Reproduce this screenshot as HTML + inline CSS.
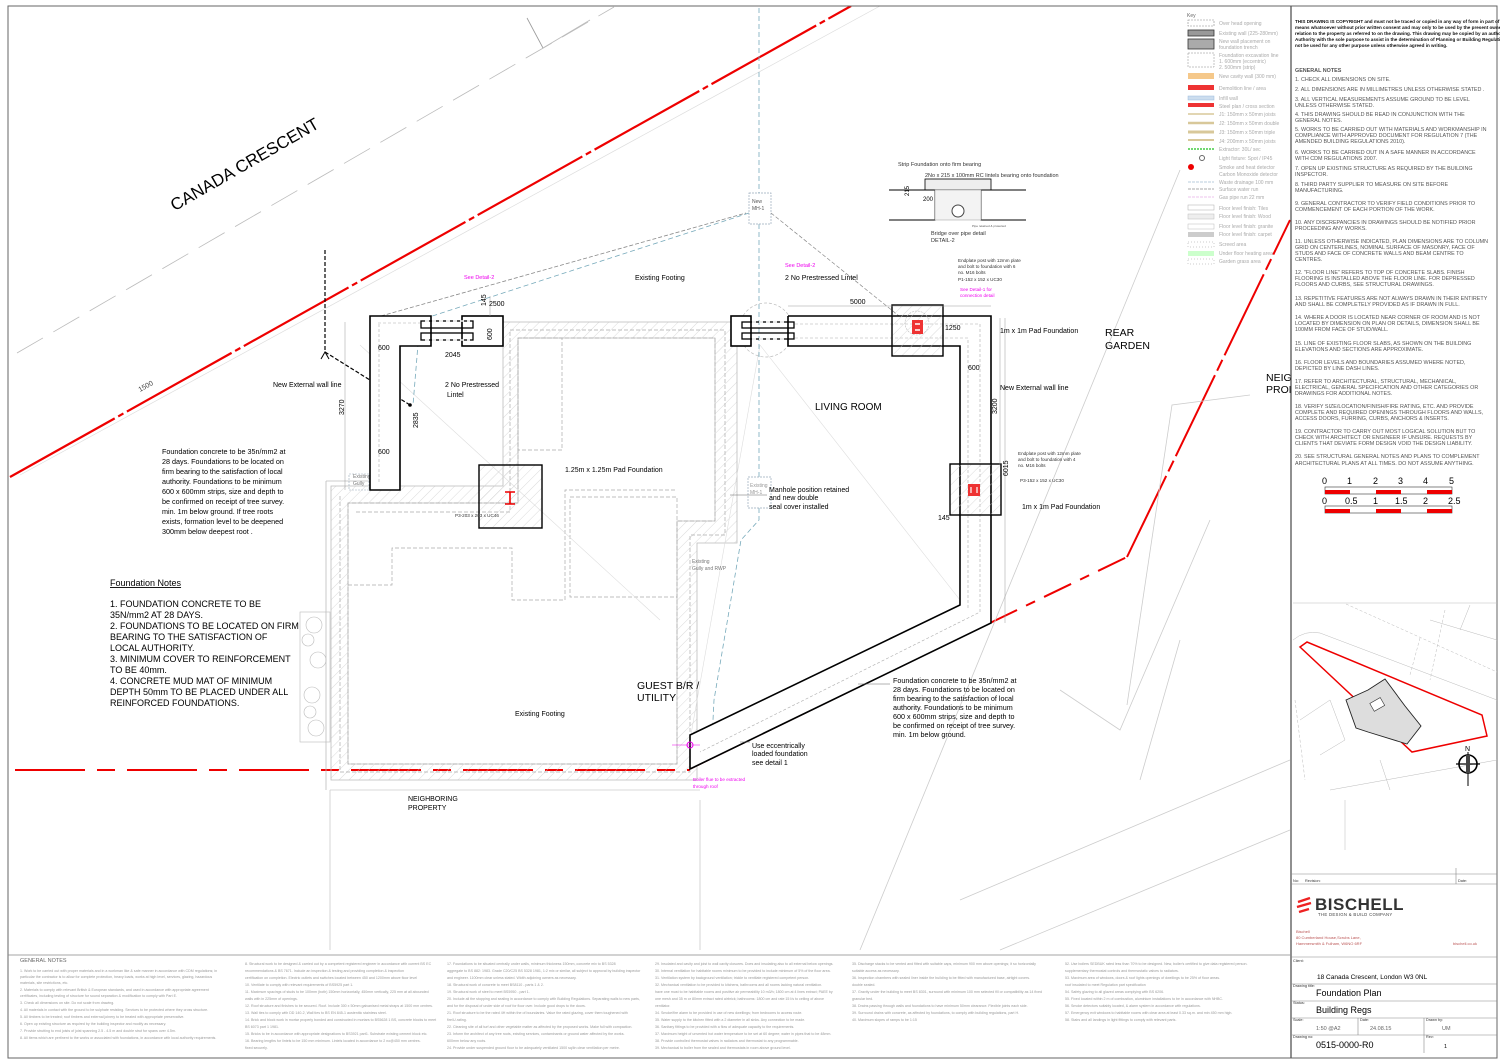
<!DOCTYPE html>
<html><head><meta charset="utf-8"><style>
html,body{margin:0;padding:0;background:#fff}
svg{display:block}
text{font-family:"Liberation Sans",sans-serif}
</style></head><body>
<svg width="1500" height="1061" viewBox="0 0 1500 1061" xmlns="http://www.w3.org/2000/svg">
<defs>
<pattern id="h" width="7" height="7" patternUnits="userSpaceOnUse" patternTransform="rotate(45)"><line x1="0" y1="0" x2="0" y2="7" stroke="#ccc" stroke-width="0.7"/></pattern>
<clipPath id="dr"><rect x="8" y="6" width="1283" height="948"/></clipPath>
</defs>
<rect width="1500" height="1061" fill="#fff"/>
<g clip-path="url(#dr)">
<!-- road grey lines -->
<line x1="17" y1="353" x2="614" y2="7" stroke="#bbb" stroke-width="0.8" stroke-dasharray="30,12"/>
<line x1="20" y1="475" x2="880" y2="6" stroke="#ddd" stroke-width="0.7"/>
<line x1="527" y1="18" x2="543" y2="48" stroke="#999" stroke-width="0.8"/>
<line x1="543" y1="48" x2="590" y2="20" stroke="#bbb" stroke-width="0.8"/>
<!-- red top boundary -->
<line x1="10" y1="477" x2="851" y2="6" stroke="#e00" stroke-width="2.2" stroke-dasharray="120,4,6,4"/>
<text x="140" y="392" font-size="7" fill="#444" transform="rotate(-29 140 392)">1500</text>
<text x="245" y="170" font-size="17" text-anchor="middle" transform="rotate(-30 245 165)">CANADA CRESCENT</text>
<!-- red right/bottom boundary -->
<polyline points="990,623 1127,557" fill="none" stroke="#e00" stroke-width="2" stroke-dasharray="30,10,10,10"/>
<polyline points="1127,557 1290,220" fill="none" stroke="#e00" stroke-width="2" stroke-dasharray="90,5,12,5"/>
<line x1="15" y1="770" x2="690" y2="770" stroke="#e00" stroke-width="2" stroke-dasharray="70,12,18,12"/>
<line x1="690" y1="769" x2="990" y2="623" stroke="#600" stroke-width="1.6"/>
<!-- neighbouring grey lines -->
<g stroke="#ccc" stroke-width="0.8" fill="none">
<polyline points="1127,705 1172,405 1250,395"/>
<polyline points="1060,690 1120,730 1210,520"/>
<line x1="1180" y1="640" x2="1140" y2="780"/>
<line x1="960" y1="900" x2="1290" y2="760"/>
<line x1="1000" y1="950" x2="1290" y2="830"/>
<line x1="860" y1="950" x2="1180" y2="170"/>
<line x1="330" y1="790" x2="330" y2="950"/>
<line x1="700" y1="800" x2="700" y2="950"/>
<line x1="330" y1="790" x2="700" y2="790"/>
</g>
<!-- existing building hatched band -->
<path d="M331,486 L503,486 L503,322 L737,322 L737,543 L697,543 L697,780 L331,780 Z M348,503 L348,764 L677,764 L677,521 L715,521 L715,338 L518,338 L518,503 Z" fill="url(#h)" fill-rule="evenodd" stroke="#bbb" stroke-width="0.8"/>
<g fill="none" stroke="#aaa" stroke-width="0.7" stroke-dasharray="4,2">
<polygon points="348,503 348,764 677,764 677,521 715,521 715,338 518,338 518,503"/>
<polyline points="356,512 510,512 510,330 725,330 725,535 690,535 690,772 340,772 340,496"/>
<rect x="518" y="338" width="44" height="112"/>
<polyline points="348,585 392,585 392,548 512,548 512,600 565,600 565,490 677,490"/>
<rect x="570" y="497" width="107" height="100"/>
</g>
<line x1="326" y1="481" x2="326" y2="790" stroke="#bbb" stroke-width="0.8"/>
<line x1="326" y1="481" x2="370" y2="481" stroke="#bbb" stroke-width="0.8"/>
<line x1="360" y1="345" x2="660" y2="620" stroke="#ddd" stroke-width="0.6"/>
<line x1="760" y1="345" x2="960" y2="600" stroke="#ddd" stroke-width="0.6"/>
<line x1="760" y1="345" x2="690" y2="740" stroke="#ddd" stroke-width="0.6"/>
<!-- hedge -->
<g fill="none" stroke="#bbb" stroke-width="0.6"><rect x="300" y="612" width="30" height="130"/>
<circle cx="314" cy="625" r="8"/><circle cx="318" cy="660" r="8"/><circle cx="312" cy="695" r="8"/><circle cx="316" cy="728" r="8"/><circle cx="308" cy="640" r="6"/><circle cx="310" cy="712" r="6"/></g>
<!-- blue drainage -->
<g fill="none" stroke="#7ab" stroke-width="0.8" stroke-dasharray="5,3">
<polyline points="759,0 759,193"/><polyline points="759,224 759,477"/><polyline points="759,508 759,520 741,540 714,700 712,740"/>
<polyline points="749,213 420,320 413,405"/>
</g>
<rect x="749" y="193" width="22" height="31" fill="#fff" stroke="#9ab" stroke-width="0.7" stroke-dasharray="2,1"/>
<text x="752" y="203" font-size="5" fill="#555">New</text><text x="752" y="210" font-size="5" fill="#555">MH-1</text>
<rect x="748" y="477" width="23" height="31" fill="#fff" stroke="#9ab" stroke-width="0.7" stroke-dasharray="2,1"/>
<text x="750" y="487" font-size="5" fill="#999">Existing</text><text x="750" y="494" font-size="5" fill="#999">MH-1</text>
<rect x="349" y="474" width="20" height="16" fill="none" stroke="#9ab" stroke-width="0.6" stroke-dasharray="2,1"/>
<text x="353" y="478" font-size="5" fill="#777">Existing</text><text x="353" y="485" font-size="5" fill="#777">Gully</text>
<text x="692" y="563" font-size="5" fill="#777">Existing</text><text x="692" y="570" font-size="5" fill="#777">Gully and RWP</text>
<!-- grey dashed lines to MH -->
<line x1="381" y1="316" x2="746" y2="213" stroke="#888" stroke-width="0.8" stroke-dasharray="4,2"/>
<line x1="771" y1="213" x2="904" y2="320" stroke="#888" stroke-width="0.7" stroke-dasharray="4,2"/>
<circle cx="766" cy="330" r="27" fill="none" stroke="#bbb" stroke-width="0.7" stroke-dasharray="3,2"/>
<!-- black dashed section line -->
<polyline points="325,250 325,352 410,405" fill="none" stroke="#000" stroke-width="1.2" stroke-dasharray="4,2"/>
<circle cx="410" cy="405" r="1.8"/>
<path d="M321,359 L325,352 L329,359" fill="none" stroke="#000"/>
<!-- new walls -->
<g fill="#fff" stroke="#000" stroke-width="1.6">
<polygon points="370,316 431,316 431,346 400,346 400,490 370,490"/>
<rect x="462" y="316" width="41" height="30"/>
<rect x="731" y="316" width="20" height="30"/>
<polyline points="788,316 991,316 991,623 690,769 690,735 960,605 960,346 788,346 788,316"/>
</g>
<g fill="none" stroke="#aaa" stroke-width="0.6" stroke-dasharray="3,2">
<polyline points="379,324 379,482"/><polyline points="378,323 422,323"/><polyline points="795,324 980,324 980,612 700,752"/><polyline points="795,338 968,338 968,610"/>
</g>
<g stroke="#000" stroke-width="1.3" fill="none">
<rect x="421" y="321" width="52" height="7"/><rect x="421" y="333" width="52" height="7"/>
<rect x="742" y="322" width="52" height="6"/><rect x="742" y="333" width="52" height="6"/>
</g>
<g stroke="#fff" stroke-width="1.5" stroke-dasharray="4,3"><line x1="425" y1="321" x2="470" y2="321"/><line x1="425" y1="340" x2="470" y2="340"/><line x1="752" y1="322" x2="787" y2="322"/><line x1="752" y1="339" x2="787" y2="339"/></g>
<!-- pads -->
<rect x="479" y="465" width="63" height="63" fill="url(#h)" stroke="#000" stroke-width="1.4"/>
<rect x="892" y="305" width="51" height="51" fill="url(#h)" stroke="#000" stroke-width="1.4"/>
<rect x="950" y="464" width="51" height="51" fill="url(#h)" stroke="#000" stroke-width="1.4"/>
<path d="M505,492 h10 M510,492 v12 M505,504 h10" stroke="#e00" stroke-width="1.6" fill="none"/>
<circle cx="917" cy="323" r="12" fill="none" stroke="#bbb" stroke-width="0.6" stroke-dasharray="2,1"/>
<rect x="912" y="320" width="11" height="14" fill="#e33"/><path d="M915,324 h5 M915,330 h5" stroke="#fff" stroke-width="1.4"/>
<rect x="968" y="484" width="12" height="12" fill="#e33"/><path d="M971,487 v6 M977,487 v6" stroke="#fff" stroke-width="1.2"/>
<circle cx="690" cy="745" r="3" fill="none" stroke="#e0e"/><line x1="672" y1="745" x2="700" y2="745" stroke="#e0e" stroke-width="0.6"/>
<!-- dimension lines -->
<g stroke="#999" stroke-width="0.5"><line x1="345" y1="322" x2="345" y2="490"/><line x1="1000" y1="318" x2="1000" y2="465"/><line x1="1005" y1="318" x2="1005" y2="623"/><line x1="490" y1="296" x2="490" y2="316"/><line x1="788" y1="306" x2="991" y2="306"/></g>
<!-- detail-2 -->
<g>
<text x="898" y="166" font-size="5.5" fill="#333">Strip Foundation onto firm bearing</text>
<text x="925" y="177" font-size="5.5" fill="#333">2No x 215 x 100mm RC lintels bearing onto foundation</text>
<rect x="925" y="179" width="66" height="11" fill="#eee" stroke="#000" stroke-width="0.8"/>
<path d="M889,190 L935,190 L935,220 L889,220" fill="none" stroke="#000" stroke-width="1"/>
<path d="M1026,190 L981,190 L981,220 L1026,220" fill="none" stroke="#000" stroke-width="1"/>
<rect x="935" y="190" width="46" height="30" fill="#f3f3f3" stroke="#999" stroke-width="0.5"/>
<circle cx="958" cy="211" r="6" fill="#fff" stroke="#444"/>
<text x="903" y="190" font-size="6" transform="rotate(-90 909 190)">215</text>
<text x="923" y="201" font-size="6">200</text>
<text x="972" y="227" font-size="3" fill="#555">Pipe retained &amp; protected</text>
<text x="931" y="235" font-size="5.5" fill="#333">Bridge over pipe detail</text>
<text x="931" y="242" font-size="5.5" fill="#333">DETAIL-2</text>
</g>
<!-- labels -->
<g font-size="7" fill="#000">
<text x="464" y="279" fill="#e0e" font-size="5.5">See Detail-2</text>
<text x="785" y="267" fill="#e0e" font-size="5.5">See Detail-2</text>
<text x="486" y="306" transform="rotate(-90 486 306)">145</text>
<text x="489" y="306">2500</text>
<text x="635" y="280">Existing Footing</text>
<text x="785" y="280">2 No Prestressed Lintel</text>
<text x="850" y="304">5000</text>
<text x="945" y="330">1250</text>
<text x="1000" y="333">1m x 1m Pad Foundation</text>
<text x="378" y="350">600</text>
<text x="445" y="357">2045</text>
<text x="492" y="340" transform="rotate(-90 492 340)">600</text>
<text x="273" y="387">New External wall line</text>
<text x="445" y="387">2 No Prestressed</text>
<text x="447" y="397">Lintel</text>
<text x="344" y="415" transform="rotate(-90 344 415)">3270</text>
<text x="418" y="428" transform="rotate(-90 418 428)">2835</text>
<text x="378" y="454">600</text>
<text x="565" y="472">1.25m x 1.25m Pad Foundation</text>
<text x="968" y="370">600</text>
<text x="1000" y="390">New External wall line</text>
<text x="997" y="414" transform="rotate(-90 997 414)">3200</text>
<text x="1008" y="476" transform="rotate(-90 1008 476)">6015</text>
<text x="1022" y="509">1m x 1m Pad Foundation</text>
<text x="938" y="520">145</text>
<text x="769" y="492">Manhole position retained</text>
<text x="769" y="500">and new double</text>
<text x="769" y="509">seal cover installed</text>
<text x="515" y="716">Existing Footing</text>
<text x="752" y="748">Use eccentrically</text>
<text x="752" y="756">loaded foundation</text>
<text x="752" y="765">see detail 1</text>
<text x="408" y="801">NEIGHBORING</text>
<text x="408" y="810">PROPERTY</text>
</g>
<g font-size="4.6" fill="#333">
<text x="958" y="262">Endplate post with 12mm plate</text><text x="958" y="268">and bolt to foundation with 6</text><text x="958" y="274">no. M16 bolts</text><text x="958" y="281">P1-152 x 152 x UC30</text>
<text x="960" y="291" fill="#e0e">See Detail-1 for</text><text x="960" y="297" fill="#e0e">connection detail</text>
<text x="1018" y="455">Endplate post with 12mm plate</text><text x="1018" y="461">and bolt to foundation with 4</text><text x="1018" y="467">no. M16 bolts</text><text x="1020" y="482">P3-152 x 152 x UC30</text>
<text x="455" y="517">P3-203 x 203 x UC46</text>
<text x="693" y="781" fill="#e0e">Boiler flue to be extracted</text><text x="693" y="788" fill="#e0e">through roof</text>
</g>
<text x="815" y="410" font-size="10">LIVING ROOM</text>
<text x="1105" y="336" font-size="10.5">REAR</text><text x="1105" y="349" font-size="10.5">GARDEN</text>
<text x="1266" y="381" font-size="10.5">NEIG</text><text x="1266" y="393" font-size="10.5">PROP</text>
<text x="637" y="689" font-size="10.5">GUEST B/R /</text><text x="637" y="701" font-size="10.5">UTILITY</text>
<g font-size="7.2">
<text x="162" y="454">Foundation concrete to be 35n/mm2 at</text>
<text x="162" y="464">28 days. Foundations to be located on</text>
<text x="162" y="474">firm bearing to the satisfaction of local</text>
<text x="162" y="484">authority. Foundations to be minimum</text>
<text x="162" y="494">600 x 600mm strips, size and depth to</text>
<text x="162" y="504">be confirmed on receipt of tree survey.</text>
<text x="162" y="514">min. 1m below ground. If tree roots</text>
<text x="162" y="524">exists, formation level to be deepened</text>
<text x="162" y="534">300mm below deepest  root .</text>
<text x="893" y="683">Foundation concrete to be 35n/mm2 at</text>
<text x="893" y="692">28 days. Foundations to be located on</text>
<text x="893" y="701">firm bearing to the satisfaction of local</text>
<text x="893" y="710">authority. Foundations to be minimum</text>
<text x="893" y="719">600 x 600mm strips, size and depth to</text>
<text x="893" y="728">be confirmed on receipt of tree survey.</text>
<text x="893" y="737">min. 1m below ground.</text>
</g>
<g stroke="#666" stroke-width="0.5"><line x1="858" y1="684" x2="890" y2="684"/><line x1="740" y1="742" x2="750" y2="742"/><line x1="730" y1="495" x2="767" y2="495"/></g>
<text x="110" y="586" font-size="9" text-decoration="underline">Foundation Notes</text>
<g font-size="9">
<text x="110" y="607">1. FOUNDATION CONCRETE TO BE</text>
<text x="110" y="618">35N/mm2 AT 28 DAYS.</text>
<text x="110" y="629">2. FOUNDATIONS TO BE LOCATED ON FIRM</text>
<text x="110" y="640">BEARING TO THE SATISFACTION OF</text>
<text x="110" y="651">LOCAL AUTHORITY.</text>
<text x="110" y="662">3. MINIMUM COVER TO REINFORCEMENT</text>
<text x="110" y="673">TO BE 40mm.</text>
<text x="110" y="684">4. CONCRETE MUD MAT OF MINIMUM</text>
<text x="110" y="695">DEPTH 50mm TO BE PLACED UNDER ALL</text>
<text x="110" y="706">REINFORCED FOUNDATIONS.</text>
</g>
</g>
<!-- frame -->
<rect x="8" y="6" width="1489" height="1052" fill="none" stroke="#666" stroke-width="1"/>
<line x1="1291" y1="6" x2="1291" y2="1058" stroke="#555" stroke-width="1.3"/>
<line x1="8" y1="955" x2="1291" y2="955" stroke="#888" stroke-width="0.8"/>
<!-- bottom notes -->
<text x="20" y="962" font-size="5.5" fill="#666">GENERAL NOTES</text>
<g font-size="3.6" fill="#999">
<text x="20" y="972">1. Work to be carried out with proper materials and in a workman like &amp; safe manner in accordance with CDM regulations; in</text>
<text x="20" y="978">particular the contractor is to allow for complete protection, heavy loads, works at high level, services, glazing, hazardous</text>
<text x="20" y="984">materials, site restrictions, etc.</text>
<text x="20" y="991">2. Materials to comply with relevant British &amp; European standards, and used in accordance with appropriate agreement</text>
<text x="20" y="997">certificates, including testing of structure for sound separation &amp; modification to comply with Part E.</text>
<text x="20" y="1004">3. Check all dimensions on site. Do not scale from drawing.</text>
<text x="20" y="1011">4. All materials in contact with the ground to be sulphate resisting. Services to be protected where they cross structure.</text>
<text x="20" y="1018">5. All timbers to be treated; roof timbers and external joinery to be treated with appropriate preservative.</text>
<text x="20" y="1025">6. Open up existing structure as required by the building inspector and modify as necessary.</text>
<text x="20" y="1032">7. Provide strutting to end joists of joist spanning 2.5 - 4.5 m and double strut for spans over 4.5m.</text>
<text x="20" y="1039">8. All items which are pertinent to the works or associated with foundations, in accordance with local authority requirements.</text>
</g>
<g font-size="3.6" fill="#999">
<text x="245" y="965">8. Structural work to be designed &amp; carried out by a competent registered engineer in accordance with current BS EC</text>
<text x="245" y="972">recommendations &amp; BS 7671. Include an inspection &amp; testing and providing completion &amp; inspection</text>
<text x="245" y="979">certification on completion. Electric outlets and switches located between 450 and 1200mm above floor level</text>
<text x="245" y="986">10. Ventilate to comply with relevant requirements of BS5925 part 1.</text>
<text x="245" y="993">11. Maximum spacings of studs to be 100mm (both) 150mm horizontally, 450mm vertically, 225 mm at all abounded</text>
<text x="245" y="1000">walls with in 225mm of openings.</text>
<text x="245" y="1007">12. Roof structure and finishes to be secured. Roof. Include 300 x 50mm galvanised metal straps at 1500 mm centres.</text>
<text x="245" y="1014">13. Wall ties to comply with DD 140-2, Wall ties to BS EN 845-1 austenitic stainless steel.</text>
<text x="245" y="1021">14. Brick and block work in mortar properly bonded and constructed in mortars to BS5628 1 BS, concrete blocks to meet</text>
<text x="245" y="1028">BS 6073 part 1 1981.</text>
<text x="245" y="1035">15. Bricks to be in accordance with appropriate designations to BS3921 part1. Substrate existing cement block etc.</text>
<text x="245" y="1042">16. Bearing lengths for lintels to be 150 mm minimum. Lintels located in accordance to 2 no@450 mm centres.</text>
<text x="245" y="1049">fixed securely.</text>
</g>
<g font-size="3.6" fill="#999">
<text x="447" y="965">17. Foundations to be situated centrally under walls, minimum thickness 150mm, concrete mix to BS 5328</text>
<text x="447" y="972">aggregate to BS 882: 1983. Grade C20/C25 BS 5328 1981, 1:2 mix or similar, all subject to approval by building inspector</text>
<text x="447" y="979">and engineer. 1100mm clear unless stated. Width adjoining owners as necessary.</text>
<text x="447" y="986">18. Structural work of concrete to meet BS8110 - parts 1 &amp; 2.</text>
<text x="447" y="993">19. Structural work of steel to meet BS5950 - part 1.</text>
<text x="447" y="1000">20. Include all the stopping and sealing in accordance to comply with Building Regulations. Separating walls to new parts,</text>
<text x="447" y="1007">and for the disposal of under side of roof for floor over. Include good drops to the doors.</text>
<text x="447" y="1014">21. Roof structure to be the rated 4H within the of boundaries. Value the rated glazing, cover them toughened with</text>
<text x="447" y="1021">fire/U-rating.</text>
<text x="447" y="1028">22. Cleaning site of all turf and other vegetable matter as affected by the proposed works. Make full with compaction.</text>
<text x="447" y="1035">23. Inform the architect of any tree roots, existing services, contaminants or ground water affected by the works.</text>
<text x="447" y="1042">600mm below any roots.</text>
<text x="447" y="1049">24. Provide under suspended ground floor to be adequately ventilated 1500 sq/lin clear ventilation per metre.</text>
</g>
<g font-size="3.6" fill="#999">
<text x="655" y="965">29. Insulated and cavity and joist to wall cavity closures. Does and insulating also to all external below openings.</text>
<text x="655" y="972">30. Internal ventilation for habitable rooms minimum to be provided to include minimum of 5% of the floor area.</text>
<text x="655" y="979">31. Ventilation system by background ventilation; trickle to ventilate registered competent person.</text>
<text x="655" y="986">32. Mechanical ventilation to be provided to kitchens, bathrooms and all rooms lacking natural ventilation.</text>
<text x="655" y="993">have one must to be habitable rooms and positive air permeability 10 m3/h; 1800 cm at 4 lines extract; PAEE by</text>
<text x="655" y="1000">one mesh and 35 m or 80mm extract rated airbrick; bathrooms: 1800 cm and rate 15 l/s to ceiling of above</text>
<text x="655" y="1007">ventilator.</text>
<text x="655" y="1014">34. Smoke/fire alarm to be provided in use of new dwellings; from bedrooms to access route.</text>
<text x="655" y="1021">35. Water supply to the kitchen fitted with a 2 diameter in all sinks. Any connection to be made.</text>
<text x="655" y="1028">36. Sanitary fittings to be provided with a flow of adequate capacity to the requirements.</text>
<text x="655" y="1035">37. Maximum height of unvented hot water temperature to be set at 60 degree; water in pipes that to be 48mm.</text>
<text x="655" y="1042">38. Provide controlled thermostat valves in radiators and thermostat to any programmable.</text>
<text x="655" y="1049">39. Mechanical to boiler from the sealed and thermostats in room above ground level.</text>
</g>
<g font-size="3.6" fill="#999">
<text x="852" y="965">35. Discharge stacks to be vented and fitted with suitable caps, minimum 900 mm above openings; it so horizontally</text>
<text x="852" y="972">suitable access as necessary.</text>
<text x="852" y="979">36. Inspection chambers with sealed liner inside the building to be fitted with manufactured base, airtight covers.</text>
<text x="852" y="986">double sealed.</text>
<text x="852" y="993">37. Gravity under the building to meet BS 8301, surround with minimum 100 mm selected fill or compatibility as 14 fixed</text>
<text x="852" y="1000">granular bed.</text>
<text x="852" y="1007">38. Drains passing through walls and foundations to have minimum 50mm clearance. Flexible joints each side.</text>
<text x="852" y="1014">39. Surround drains with concrete, as affected by foundations, to comply with building regulations, part H.</text>
<text x="852" y="1021">40. Maximum slopes of ramps to be 1:15</text>
</g>
<g font-size="3.6" fill="#999">
<text x="1065" y="965">52. Use boilers SEDBUK rated less than 70% to be designed. New, boiler's certified to give data registered person.</text>
<text x="1065" y="972">supplementary thermostat controls and thermostatic valves to radiators.</text>
<text x="1065" y="979">53. Maximum area of windows, doors &amp; roof lights openings of dwellings to be 25% of floor areas.</text>
<text x="1065" y="986">roof insulated to meet Regulation part specification</text>
<text x="1065" y="993">54. Safety glazing to all glazed areas complying with BS 6206.</text>
<text x="1065" y="1000">55. Fixed located within 2 m of combustion, aluminium installations to be in accordance with NHBC.</text>
<text x="1065" y="1007">56. Smoke detectors suitably located, &amp; alarm system in accordance with regulations.</text>
<text x="1065" y="1014">57. Emergency exit windows to habitable rooms with clear area at least 0.33 sq.m. and min 450 mm high.</text>
<text x="1065" y="1021">58. Stairs and all landings in light fittings to comply with relevant parts.</text>
</g>
<!-- legend -->
<g font-size="5" fill="#aaa">
<text x="1187" y="17" fill="#666">Key</text>
<rect x="1188" y="20" width="26" height="6" fill="none" stroke="#888" stroke-width="0.6" stroke-dasharray="2,1"/><text x="1219" y="25">Over head opening</text>
<rect x="1188" y="30" width="26" height="6" fill="#999" stroke="#333" stroke-width="0.8"/><text x="1219" y="35">Existing wall (225-280mm)</text>
<rect x="1188" y="39" width="26" height="10" fill="#aaa" stroke="#333" stroke-width="0.8"/><text x="1219" y="43">New wall placement on</text><text x="1219" y="49">foundation trench</text>
<rect x="1188" y="53" width="26" height="14" fill="none" stroke="#888" stroke-width="0.5" stroke-dasharray="2,1"/><text x="1219" y="57">Foundation excavation line</text><text x="1219" y="63">1. 600mm (eccentric)</text><text x="1219" y="69">2. 500mm (strip)</text>
<rect x="1188" y="73" width="26" height="6" fill="#f5c88a"/><text x="1219" y="78">New cavity wall (300 mm)</text>
<rect x="1188" y="85" width="26" height="5" fill="#e33"/><text x="1219" y="90">Demolition line / area</text>
<rect x="1188" y="96" width="26" height="4" fill="#cde" stroke="#9bd" stroke-width="0.5"/><text x="1219" y="100">Infill wall</text>
<rect x="1188" y="103" width="26" height="4" fill="#e33"/><text x="1219" y="108">Steel  plan /  cross section</text>
<line x1="1188" y1="114" x2="1214" y2="114" stroke="#d8c89a" stroke-width="1.5"/><text x="1219" y="116">J1: 150mm x 50mm joists</text>
<line x1="1188" y1="123" x2="1214" y2="123" stroke="#d8c89a" stroke-width="2.5"/><text x="1219" y="125">J2: 150mm x 50mm double</text>
<line x1="1188" y1="132" x2="1214" y2="132" stroke="#d8c89a" stroke-width="3"/><text x="1219" y="134">J3: 150mm x 50mm triple</text>
<line x1="1188" y1="140" x2="1214" y2="140" stroke="#d8c89a" stroke-width="2"/><text x="1219" y="143">J4: 200mm x 50mm joists</text>
<line x1="1188" y1="149" x2="1214" y2="149" stroke="#4c4" stroke-width="1.5" stroke-dasharray="2,1"/><text x="1219" y="151">Extractor: 30L/ sec</text>
<circle cx="1202" cy="158" r="2.5" fill="none" stroke="#666"/><text x="1219" y="160">Light fixture: Spot  / IP45</text>
<circle cx="1191" cy="167" r="3" fill="#e00"/><text x="1219" y="169">Smoke and heat detector</text>
<text x="1219" y="176">Carbon Monoxide detector</text>
<text x="1219" y="184">Waste drainage 100 mm</text>
<text x="1219" y="191">Surface water run</text>
<text x="1219" y="199">Gas pipe run 22 mm</text>
<text x="1219" y="210">Floor level finish: Tiles</text>
<text x="1219" y="218">Floor level finish: Wood</text>
<text x="1219" y="228">Floor level finish: granite</text>
<text x="1219" y="236">Floor level finish: carpet</text>
<text x="1219" y="246">Screed area</text>
<text x="1219" y="255">Under floor heating area</text>
<text x="1219" y="263">Garden grass area</text>
<line x1="1188" y1="182" x2="1214" y2="182" stroke="#79b" stroke-width="0.6" stroke-dasharray="3,1"/>
<line x1="1188" y1="189" x2="1214" y2="189" stroke="#555" stroke-width="0.6" stroke-dasharray="3,1"/>
<line x1="1188" y1="197" x2="1214" y2="197" stroke="#d8d" stroke-width="0.6" stroke-dasharray="3,1"/>
<rect x="1188" y="205" width="26" height="5" fill="none" stroke="#aaa" stroke-width="0.5"/>
<rect x="1188" y="214" width="26" height="5" fill="#eee" stroke="#bbb" stroke-width="0.5"/>
<rect x="1188" y="224" width="26" height="5" fill="none" stroke="#bbb" stroke-width="0.5"/>
<rect x="1188" y="232" width="26" height="5" fill="#ccc"/>
<rect x="1188" y="242" width="26" height="5" fill="none" stroke="#999" stroke-width="0.5" stroke-dasharray="1,2"/>
<rect x="1188" y="251" width="26" height="5" fill="#cfc"/>
<rect x="1188" y="259" width="26" height="5" fill="none" stroke="#999" stroke-width="0.5" stroke-dasharray="1,2"/>
</g>
<!-- right notes -->
<g font-size="4.6" font-weight="bold" fill="#111">
<text x="1295" y="23">THIS DRAWING IS COPYRIGHT and must not be traced or copied in any way of form in part of whole by any</text>
<text x="1295" y="29">means whatsoever without prior written consent and may only to be used by the present owner, being our current client in</text>
<text x="1295" y="35">relation to the property as referred to on the drawing. This drawing may be copied by an authorised officer of the Local</text>
<text x="1295" y="41">Authority with the sole purpose to assist in the determination of  Planning or Building Regulations application and may</text>
<text x="1295" y="47">not be used for any other purpose unless otherwise agreed in writing.</text>
</g>
<g font-size="5.4" fill="#555">
<text x="1295" y="72" font-weight="bold">GENERAL NOTES</text>
<text x="1295" y="81">1. CHECK ALL DIMENSIONS ON SITE.</text>
<text x="1295" y="91">2. ALL DIMENSIONS ARE IN MILLIMETRES UNLESS OTHERWISE STATED .</text>
<text x="1295" y="101">3. ALL VERTICAL MEASUREMENTS ASSUME GROUND TO BE LEVEL</text><text x="1295" y="107">UNLESS OTHERWISE STATED.</text>
<text x="1295" y="116">4. THIS DRAWING SHOULD BE READ IN CONJUNCTION WITH THE</text><text x="1295" y="122">GENERAL NOTES.</text>
<text x="1295" y="131">5. WORKS TO BE CARRIED OUT WITH MATERIALS AND WORKMANSHIP IN</text><text x="1295" y="137">COMPLIANCE WITH APPROVED      DOCUMENT FOR REGULATION 7 (THE</text><text x="1295" y="143">AMENDED BUILDING REGULATIONS 2010).</text>
<text x="1295" y="154">6. WORKS TO BE CARRIED OUT IN A SAFE MANNER IN ACCORDANCE</text><text x="1295" y="160">WITH CDM REGULATIONS 2007.</text>
<text x="1295" y="170">7. OPEN UP EXISTING STRUCTURE AS REQUIRED BY THE BUILDING</text><text x="1295" y="176">INSPECTOR.</text>
<text x="1295" y="186">8. THIRD PARTY SUPPLIER TO MEASURE ON SITE BEFORE</text><text x="1295" y="192">MANUFACTURING.</text>
<text x="1295" y="205">9. GENERAL CONTRACTOR TO VERIFY FIELD CONDITIONS PRIOR TO</text><text x="1295" y="211">COMMENCEMENT OF EACH PORTION  OF THE WORK.</text>
<text x="1295" y="224">10. ANY DISCREPANCIES IN DRAWINGS SHOULD BE NOTIFIED PRIOR</text><text x="1295" y="230">PROCEEDING ANY WORKS.</text>
<text x="1295" y="243">11. UNLESS OTHERWISE INDICATED, PLAN DIMENSIONS ARE TO COLUMN</text><text x="1295" y="249">GRID ON CENTERLINES, NOMINAL SURFACE OF MASONRY, FACE OF</text><text x="1295" y="255">STUDS AND FACE OF CONCRETE WALLS AND BEAM CENTRE TO</text><text x="1295" y="261">CENTRES.</text>
<text x="1295" y="274">12. "FLOOR LINE" REFERS TO TOP OF CONCRETE SLABS. FINISH</text><text x="1295" y="280">FLOORING IS INSTALLED ABOVE THE FLOOR LINE. FOR DEPRESSED</text><text x="1295" y="286">FLOORS AND CURBS, SEE STRUCTURAL DRAWINGS.</text>
<text x="1295" y="300">13. REPETITIVE FEATURES ARE NOT ALWAYS DRAWN IN THEIR ENTIRETY</text><text x="1295" y="306">AND SHALL BE COMPLETELY PROVIDED AS IF DRAWN IN FULL.</text>
<text x="1295" y="319">14. WHERE A DOOR IS LOCATED NEAR CORNER OF ROOM AND IS NOT</text><text x="1295" y="325">LOCATED BY DIMENSION ON PLAN OR DETAILS, DIMENSION SHALL BE</text><text x="1295" y="331">100MM FROM FACE OF STUD/WALL.</text>
<text x="1295" y="345">15. LINE OF EXISTING FLOOR SLABS, AS SHOWN ON THE BUILDING</text><text x="1295" y="351">ELEVATIONS AND SECTIONS ARE APPROXIMATE.</text>
<text x="1295" y="364">16. FLOOR LEVELS AND BOUNDARIES ASSUMED WHERE NOTED,</text><text x="1295" y="370">DEPICTED BY LINE DASH LINES.</text>
<text x="1295" y="383">17. REFER TO ARCHITECTURAL, STRUCTURAL, MECHANICAL,</text><text x="1295" y="389">ELECTRICAL, GENERAL SPECIFICATION AND OTHER CATEGORIES OR</text><text x="1295" y="395">DRAWINGS FOR ADDITIONAL NOTES.</text>
<text x="1295" y="408">18. VERIFY SIZE/LOCATION/FINISH/FIRE RATING, ETC. AND PROVIDE</text><text x="1295" y="414">COMPLETE AND REQUIRED OPENINGS THROUGH FLOORS AND WALLS,</text><text x="1295" y="420">ACCESS DOORS, FURRING, CURBS, ANCHORS &amp; INSERTS.</text>
<text x="1295" y="433">19. CONTRACTOR TO CARRY OUT MOST LOGICAL SOLUTION BUT TO</text><text x="1295" y="439">CHECK WITH ARCHITECT OR ENGINEER IF UNSURE. REQUESTS BY</text><text x="1295" y="445">CLIENTS THAT DEVIATE FORM DESIGN VOID THE DESIGN LIABILITY.</text>
<text x="1295" y="458">20. SEE STRUCTURAL GENERAL NOTES AND PLANS TO COMPLEMENT</text><text x="1295" y="465">ARCHITECTURAL PLANS AT ALL TIMES. DO NOT ASSUME ANYTHING.</text>
</g>
<!-- scale bars -->
<g font-size="9">
<rect x="1325" y="487" width="127" height="7" fill="#fff" stroke="#333" stroke-width="0.6"/>
<rect x="1325" y="490" width="25" height="4" fill="#e00"/><rect x="1376" y="490" width="25" height="4" fill="#e00"/><rect x="1427" y="490" width="25" height="4" fill="#e00"/>
<rect x="1325" y="506" width="127" height="7" fill="#fff" stroke="#333" stroke-width="0.6"/>
<rect x="1325" y="509" width="25" height="4" fill="#e00"/><rect x="1376" y="509" width="25" height="4" fill="#e00"/><rect x="1427" y="509" width="25" height="4" fill="#e00"/>
<text x="1322" y="484">0</text><text x="1347" y="484">1</text><text x="1373" y="484">2</text><text x="1398" y="484">3</text><text x="1423" y="484">4</text><text x="1449" y="484">5</text>
<text x="1322" y="504">0</text><text x="1345" y="504">0.5</text><text x="1373" y="504">1</text><text x="1395" y="504">1.5</text><text x="1423" y="504">2</text><text x="1448" y="504">2.5</text>
</g>
<!-- location plan -->
<g fill="none" stroke="#bbb" stroke-width="0.5">
<line x1="1293" y1="603" x2="1497" y2="603"/>
<path d="M1293,640 Q1305,630 1320,633 L1497,700"/>
<path d="M1346,604 L1497,672" stroke-dasharray="3,2"/>
<line x1="1420" y1="638" x2="1410" y2="675" stroke-dasharray="3,2"/>
<line x1="1445" y1="610" x2="1430" y2="680" stroke-dasharray="3,2"/>
<line x1="1430" y1="620" x2="1497" y2="640"/><line x1="1470" y1="605" x2="1460" y2="630"/>
<line x1="1295" y1="700" x2="1305" y2="780" stroke-dasharray="3,2"/>
<polyline points="1300,720 1330,700 1345,740 1320,755"/>
<line x1="1330" y1="790" x2="1497" y2="760"/><polyline points="1345,800 1345,850"/><line x1="1380" y1="760" x2="1390" y2="790"/>
</g>
<polygon points="1300,647 1307,642 1482,715 1487,736 1412,752 1300,647" fill="none" stroke="#e00" stroke-width="1.5"/>
<polygon points="1346,700 1368,690 1385,679 1405,706 1421,726 1407,744 1368,732 1356,728" fill="#ddd" stroke="#222" stroke-width="0.9"/>
<rect x="1371" y="700" width="12" height="9" fill="#fff" stroke="#333" stroke-width="0.6" transform="rotate(-30 1377 704)"/>
<circle cx="1468" cy="764" r="9" fill="none" stroke="#000" stroke-width="1.6"/>
<line x1="1468" y1="752" x2="1468" y2="786" stroke="#000" stroke-width="1"/><line x1="1456" y1="764" x2="1480" y2="764" stroke="#000" stroke-width="1.2"/>
<rect x="1466" y="755" width="4" height="18" fill="#444"/>
<text x="1465" y="751" font-size="7">N</text>
<!-- title block -->
<g stroke="#888" stroke-width="0.6">
<line x1="1291" y1="874" x2="1497" y2="874"/><line x1="1291" y1="884" x2="1497" y2="884"/>
<line x1="1291" y1="957" x2="1497" y2="957"/><line x1="1291" y1="984" x2="1497" y2="984"/>
<line x1="1291" y1="1001" x2="1497" y2="1001"/><line x1="1291" y1="1018" x2="1497" y2="1018"/>
<line x1="1291" y1="1035" x2="1497" y2="1035"/>
<line x1="1358" y1="1018" x2="1358" y2="1035"/><line x1="1424" y1="1018" x2="1424" y2="1053"/>
<line x1="1456" y1="868" x2="1456" y2="884"/>
</g>
<g font-size="3.8" fill="#333"><text x="1293" y="882">No:</text><text x="1305" y="882">Revision:</text><text x="1458" y="882">Date:</text>
<text x="1293" y="962">Client:</text><text x="1293" y="987">Drawing title:</text><text x="1293" y="1004">Status:</text><text x="1293" y="1021">Scale:</text><text x="1360" y="1021">Date:</text><text x="1426" y="1021">Drawn by:</text><text x="1293" y="1038">Drawing no:</text><text x="1426" y="1038">Rev:</text></g>
<path d="M1298,902 l12,-4 M1297,907 l14,-4 M1299,912 l10,-3" stroke="#e22" stroke-width="2.4"/>
<text x="1315" y="910" font-size="17" font-weight="bold" fill="#333" letter-spacing="0.5">BISCHELL</text>
<text x="1318" y="916" font-size="4.3" fill="#444" letter-spacing="0.3">THE DESIGN &amp; BUILD COMPANY</text>
<g font-size="4" fill="#b55"><text x="1296" y="933">Bischell</text><text x="1296" y="939">80 Cumberland House,Scrubs Lane,</text><text x="1296" y="945">Hammersmith &amp; Fulham, W6NO 6RF</text><text x="1453" y="945">bischell.co.uk</text></g>
<text x="1317" y="979" font-size="6.5">18 Canada Crescent, London W3 0NL</text>
<text x="1316" y="996" font-size="9">Foundation Plan</text>
<text x="1316" y="1013" font-size="9">Building Regs</text>
<text x="1316" y="1030" font-size="5.5" fill="#666">1:50 @A2</text><text x="1370" y="1030" font-size="5.5" fill="#666">24.08.15</text><text x="1442" y="1030" font-size="5.5" fill="#666">UM</text>
<text x="1316" y="1048" font-size="9">0515-0000-R0</text><text x="1444" y="1048" font-size="5.5">1</text>
</svg>
</body></html>
